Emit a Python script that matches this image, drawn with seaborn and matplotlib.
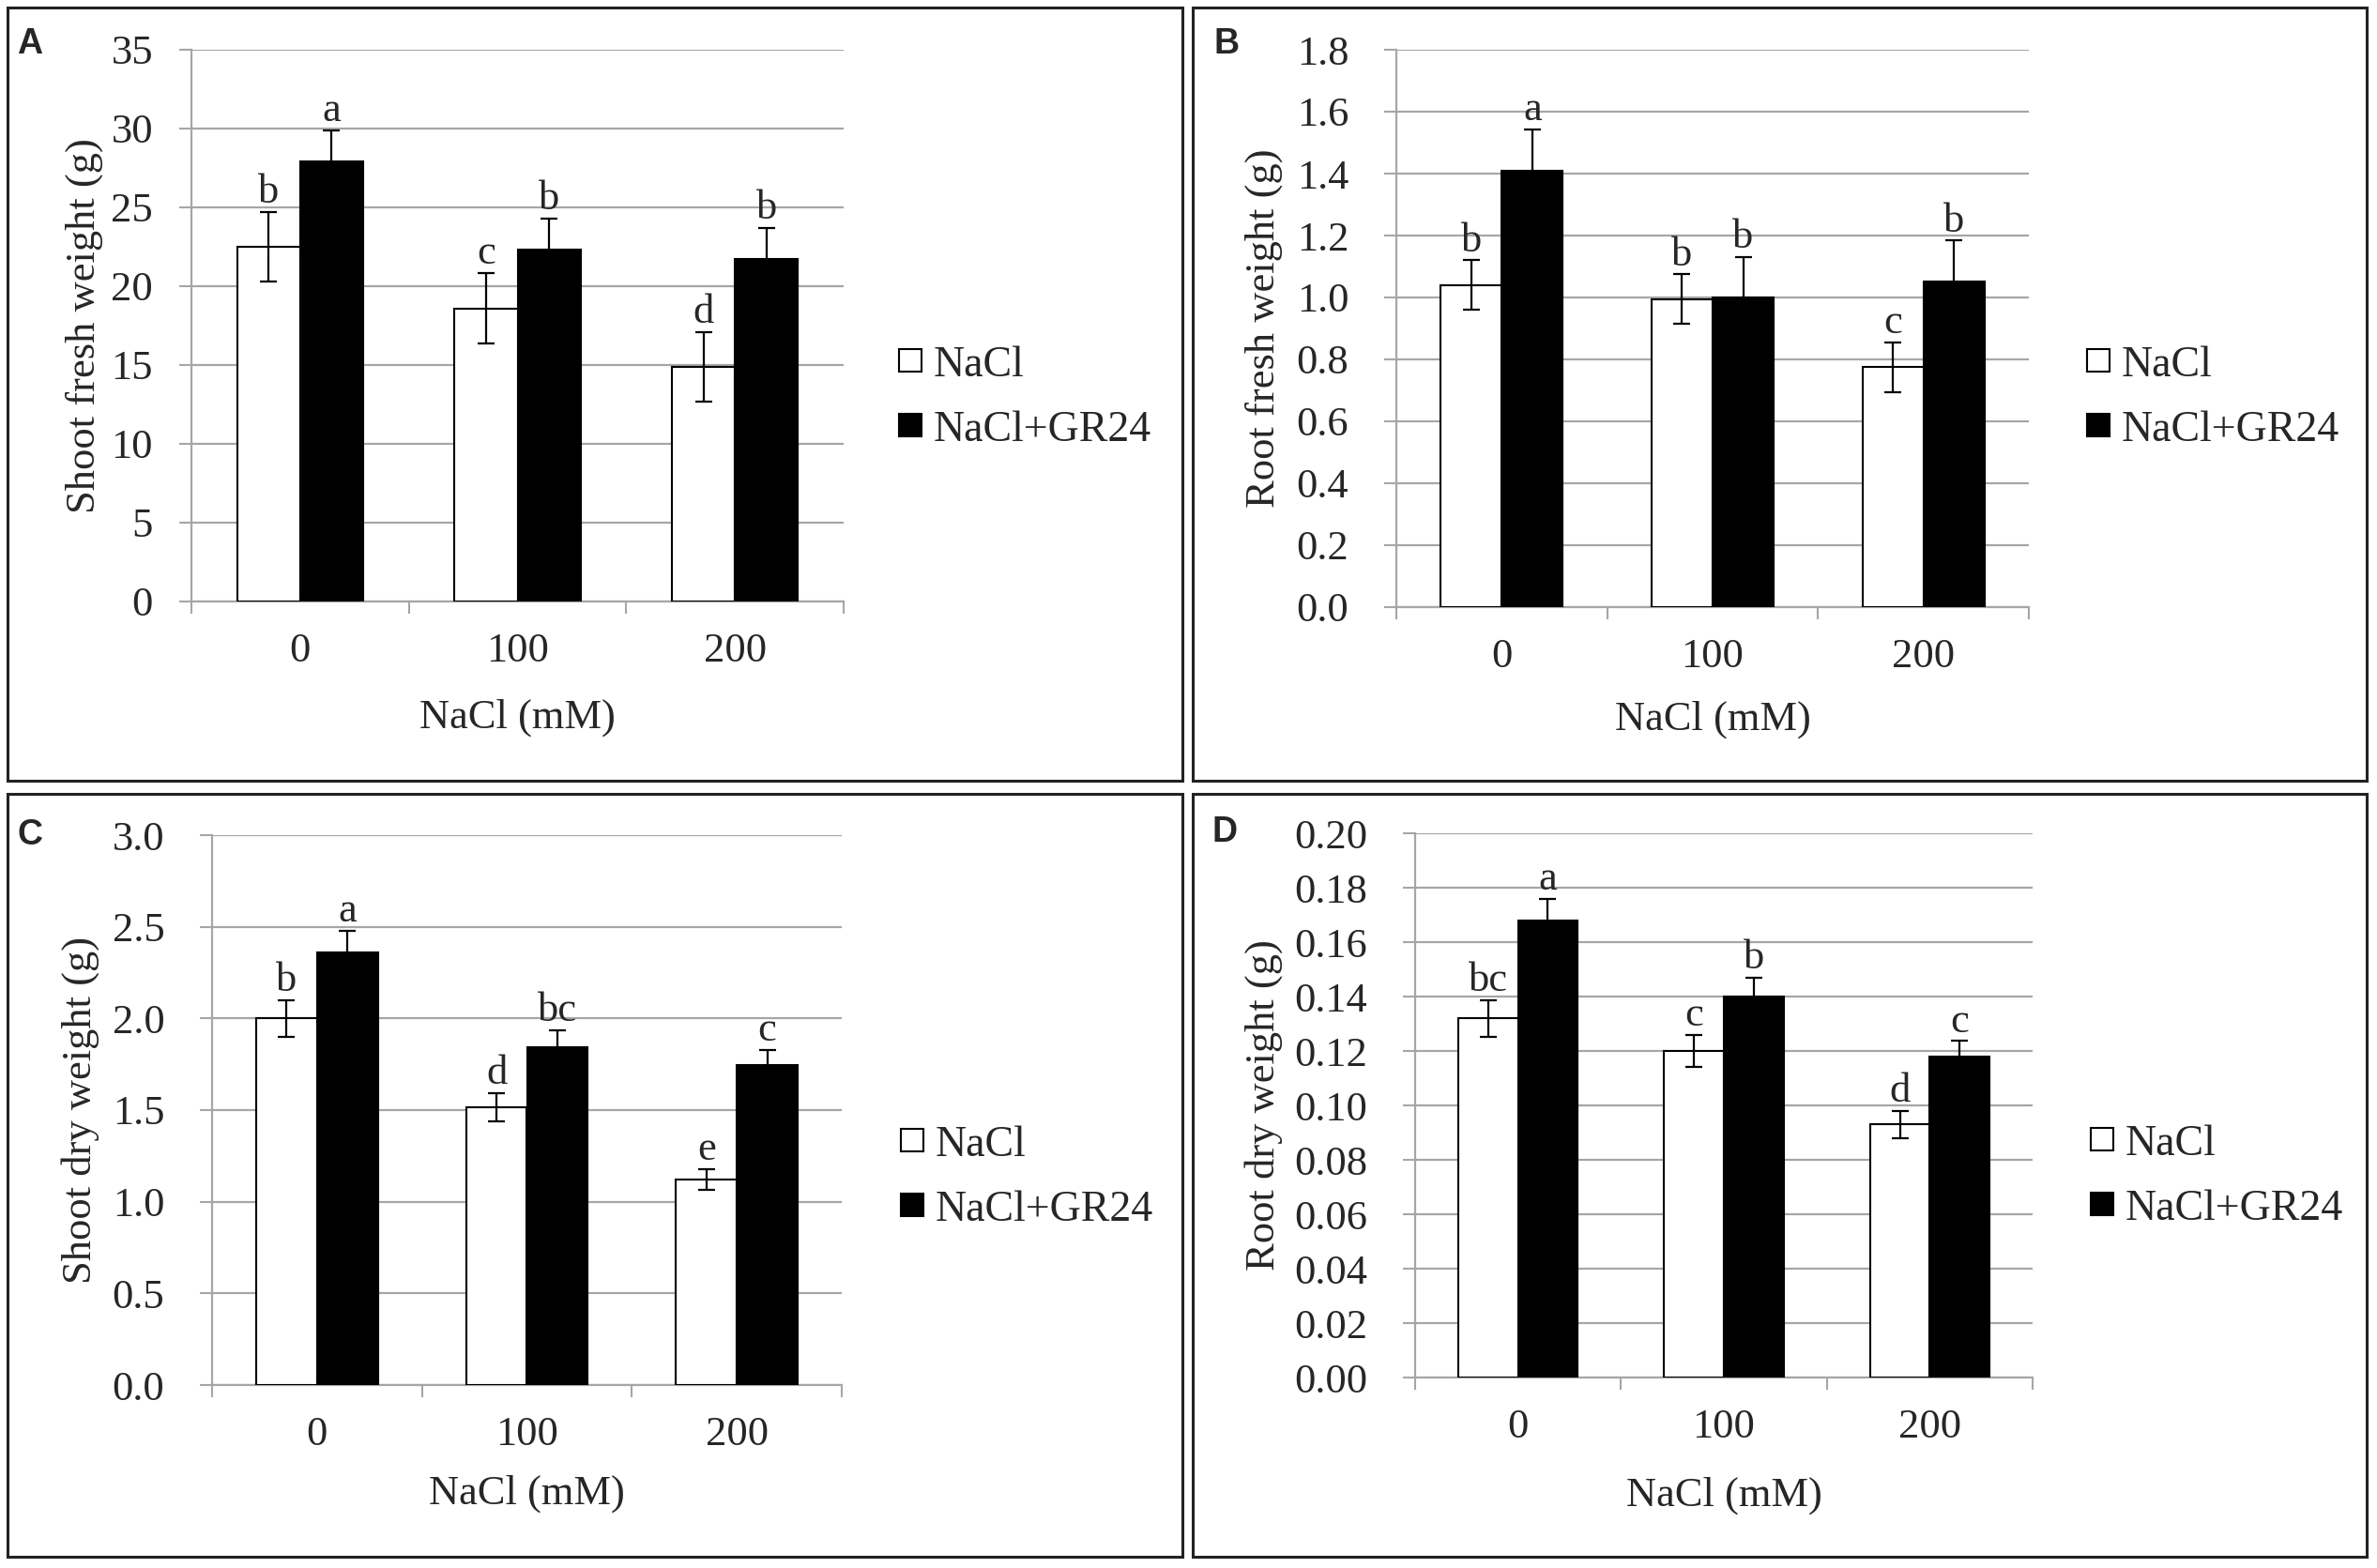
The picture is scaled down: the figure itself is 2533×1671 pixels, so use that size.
import numpy as np
import pandas as pd
import seaborn as sns
import matplotlib
matplotlib.use("Agg")
import matplotlib.pyplot as plt
from matplotlib.patches import Rectangle, Patch
from matplotlib.ticker import FixedLocator, FormatStrFormatter

# ---------------- data ----------------
categories = ["0", "100", "200"]
treatments = ["NaCl", "NaCl+GR24"]

# A: shoot fresh weight (g)
shoot_fw_nacl = [22.5, 18.6, 14.9]
shoot_fw_nacl_err = [2.2, 2.25, 2.2]
shoot_fw_gr24 = [27.9, 22.3, 21.7]
shoot_fw_gr24_err = [2.0, 2.0, 2.0]
shoot_fw_let_nacl = ["b", "c", "d"]
shoot_fw_let_gr24 = ["a", "b", "b"]
shoot_fw_ticks = [0, 5, 10, 15, 20, 25, 30, 35]

# B: root fresh weight (g)
root_fw_nacl = [1.04, 0.995, 0.775]
root_fw_nacl_err = [0.08, 0.08, 0.08]
root_fw_gr24 = [1.41, 1.0, 1.052]
root_fw_gr24_err = [0.133, 0.13, 0.132]
root_fw_let_nacl = ["b", "b", "c"]
root_fw_let_gr24 = ["a", "b", "b"]
root_fw_ticks = [0.0, 0.2, 0.4, 0.6, 0.8, 1.0, 1.2, 1.4, 1.6, 1.8]

# C: shoot dry weight (g)
shoot_dw_nacl = [2.00, 1.515, 1.12]
shoot_dw_nacl_err = [0.10, 0.077, 0.057]
shoot_dw_gr24 = [2.36, 1.845, 1.745]
shoot_dw_gr24_err = [0.12, 0.09, 0.085]
shoot_dw_let_nacl = ["b", "d", "e"]
shoot_dw_let_gr24 = ["a", "bc", "c"]
shoot_dw_ticks = [0.0, 0.5, 1.0, 1.5, 2.0, 2.5, 3.0]

# D: root dry weight (g)
root_dw_nacl = [0.132, 0.120, 0.093]
root_dw_nacl_err = [0.0067, 0.006, 0.005]
root_dw_gr24 = [0.168, 0.140, 0.118]
root_dw_gr24_err = [0.008, 0.007, 0.0057]
root_dw_let_nacl = ["bc", "c", "d"]
root_dw_let_gr24 = ["a", "b", "c"]
root_dw_ticks = [0.00, 0.02, 0.04, 0.06, 0.08, 0.10, 0.12, 0.14, 0.16, 0.18, 0.20]

# ---------------- style ----------------
sns.set_style("white")
plt.rcParams["font.family"] = ["Liberation Serif", "DejaVu Serif"]

W, H = 2533, 1671
fig = plt.figure(figsize=(W / 100, H / 100), dpi=100)

GRAY = "#a6a6a6"
FS = 32
LFS = 33


def fx(px):
    return px / W


def fy(py):
    return 1 - py / H


def add_axes(l, t, r, b):
    return fig.add_axes([fx(l), fy(b), (r - l) / W, (b - t) / H])


def draw(ax, nacl, nacl_err, gr, gr_err, let_n, let_g, ylabel, yticks, fmt,
         ypad, ylab_x, xlab_y, leg_x, leg_y):
    df = pd.DataFrame({
        "NaCl (mM)": categories * 2,
        "value": list(nacl) + list(gr),
        "Treatment": [treatments[0]] * 3 + [treatments[1]] * 3,
    })
    sns.barplot(data=df, x="NaCl (mM)", y="value", hue="Treatment",
                order=categories, hue_order=treatments,
                palette=["white", "black"], saturation=1,
                edgecolor="black", linewidth=1.5, width=0.58, gap=0,
                errorbar=None, legend=False, ax=ax, zorder=3)
    for cont, err, lets in zip(ax.containers, [nacl_err, gr_err], [let_n, let_g]):
        xs = [p.get_x() + p.get_width() / 2 for p in cont.patches]
        hs = [p.get_height() for p in cont.patches]
        ax.errorbar(xs, hs, yerr=err, fmt="none", ecolor="black",
                    elinewidth=1.6, capsize=6.5, capthick=1.6, zorder=5)
        for x, h, e, l in zip(xs, hs, err, lets):
            ax.annotate(l, (x, h + e), xytext=(0, 7), textcoords="offset points",
                        ha="center", va="baseline", fontsize=FS)

    ax.set_xlim(-0.5, 2.5)
    ax.set_ylim(yticks[0], yticks[-1])
    ax.set_yticks(yticks)
    ax.yaxis.set_major_formatter(FormatStrFormatter(fmt))
    ax.set_axisbelow(True)
    ax.yaxis.grid(True, color=GRAY, linewidth=1.6)
    ax.xaxis.grid(False)
    for s in ["top", "right"]:
        ax.spines[s].set_visible(False)
    for s in ["left", "bottom"]:
        ax.spines[s].set_color(GRAY)
        ax.spines[s].set_linewidth(1.6)
    ax.tick_params(axis="y", which="major", length=9.5, width=1.5, color=GRAY,
                   direction="out", pad=ypad, labelsize=FS, left=True)
    ax.tick_params(axis="x", which="major", length=0, pad=24, labelsize=FS)
    ax.xaxis.set_minor_locator(FixedLocator([-0.5, 0.5, 1.5, 2.5]))
    ax.tick_params(axis="x", which="minor", length=9.5, width=1.5, color=GRAY,
                   direction="out", bottom=True)

    ax.set_xlabel("NaCl (mM)", fontsize=FS)
    ax.set_ylabel(ylabel, fontsize=FS)
    ax.yaxis.set_label_coords(ylab_x, 0.5)
    ax.yaxis.label.set_va("center")
    ax.xaxis.set_label_coords(0.5, xlab_y)
    ax.xaxis.label.set_va("center")

    handles = [Patch(facecolor="white", edgecolor="black", linewidth=1.5),
               Patch(facecolor="black", edgecolor="black", linewidth=1.5)]
    ax.legend(handles, treatments, loc="center left",
              bbox_to_anchor=(fx(leg_x), fy(leg_y)), bbox_transform=fig.transFigure,
              frameon=False, fontsize=LFS, handlelength=0.52, handleheight=0.43,
              handletextpad=0.28, labelspacing=0.58, borderpad=0, borderaxespad=0)


# panel borders
for (l, t, r, b) in [(8, 8, 1260, 832), (1271, 8, 2522, 832),
                     (8, 846, 1260, 1659), (1271, 846, 2522, 1659)]:
    fig.patches.append(Rectangle((fx(l), fy(b)), (r - l) / W, (b - t) / H,
                                 transform=fig.transFigure, fill=False,
                                 edgecolor="#222222", linewidth=2.2))

axA = add_axes(204, 53, 899, 641)
draw(axA, shoot_fw_nacl, shoot_fw_nacl_err, shoot_fw_gr24, shoot_fw_gr24_err,
     shoot_fw_let_nacl, shoot_fw_let_gr24, "Shoot fresh weight (g)",
     shoot_fw_ticks, "%d", 20, -0.165, -0.211, 958, 424)

axB = add_axes(1488, 53, 2162, 647)
draw(axB, root_fw_nacl, root_fw_nacl_err, root_fw_gr24, root_fw_gr24_err,
     root_fw_let_nacl, root_fw_let_gr24, "Root fresh weight (g)",
     root_fw_ticks, "%.1f", 27, -0.209, -0.202, 2224, 424)

axC = add_axes(226, 890, 897, 1476)
draw(axC, shoot_dw_nacl, shoot_dw_nacl_err, shoot_dw_gr24, shoot_dw_gr24_err,
     shoot_dw_let_nacl, shoot_dw_let_gr24, "Shoot dry weight (g)",
     shoot_dw_ticks, "%.1f", 27, -0.210, -0.198, 960, 1255)

axD = add_axes(1508, 888, 2166, 1468)
draw(axD, root_dw_nacl, root_dw_nacl_err, root_dw_gr24, root_dw_gr24_err,
     root_dw_let_nacl, root_dw_let_gr24, "Root dry weight (g)",
     root_dw_ticks, "%.2f", 27, -0.245, -0.217, 2228, 1254)

# panel letters
for lab, x, y in [("A", 18, 57), ("B", 1293, 57), ("C", 18, 900), ("D", 1292, 897)]:
    fig.text(fx(x), fy(y), lab, family=["Liberation Sans", "DejaVu Sans"],
             weight="bold", fontsize=27, ha="left", va="baseline")

fig.savefig("out.png", dpi=100)
